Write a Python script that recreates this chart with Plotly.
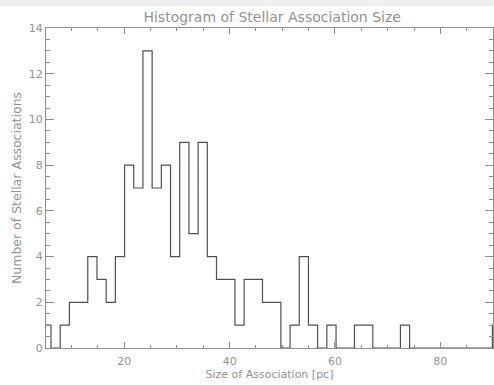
import plotly.graph_objects as go

# Histogram of stellar association sizes
bin_start = 4.33   # pc, left edge of first bin
bin_width = 1.746  # pc
counts = [1, 0, 1, 2, 2, 4, 3, 2, 4, 8,
          7, 13, 7, 8, 4, 9, 5, 9, 4, 3,
          3, 1, 3, 3, 2, 2, 0, 1, 4, 1,
          0, 1, 0, 0, 1, 1, 0, 0, 0, 1,
          0, 0, 0, 0, 0, 0, 0, 0, 0, 1]

x_range = [5.13, 90.0]
y_range = [0, 14]
x_ticks = [20, 40, 60, 80]
y_ticks = [0, 2, 4, 6, 8, 10, 12, 14]

title = "Histogram of Stellar Association Size"
x_title = "Size of Association [pc]"
y_title = "Number of Stellar Associations"

edges = [bin_start + bin_width * i for i in range(len(counts) + 1)]
step_y = counts + [counts[-1]]

axis_col = "#8f8f8f"
text_col = "#939393"
font_family = "DejaVu Sans"

fig = go.Figure()
fig.add_trace(go.Scatter(
    x=edges, y=step_y, mode="lines", line_shape="hv",
    line=dict(color="#505050", width=1.2), showlegend=False,
))

common = dict(
    showgrid=False, zeroline=False, showline=True, linecolor=axis_col,
    linewidth=1, mirror="ticks", ticks="inside", tickcolor=axis_col,
    tickfont=dict(family=font_family, size=11, color=text_col),
)

fig.update_xaxes(
    range=x_range, tickvals=x_ticks, ticklen=6, ticklabelstandoff=3,
    minor=dict(dtick=5, tick0=0, ticklen=3, ticks="inside", tickcolor=axis_col),
    title=dict(text=x_title, font=dict(family=font_family, size=11, color=text_col), standoff=0),
    **common,
)
fig.update_yaxes(
    range=y_range, tickvals=y_ticks, ticklen=8,
    minor=dict(dtick=0.5, tick0=0, ticklen=4, ticks="inside", tickcolor=axis_col),
    title=dict(text=y_title, font=dict(family=font_family, size=12.5, color=text_col), standoff=4),
    **common,
)

fig.update_layout(
    width=494, height=385,
    margin=dict(l=46, r=1, t=28, b=37, pad=0),
    paper_bgcolor="white", plot_bgcolor="white",
    title=dict(text=title, x=0.551, xref="container", xanchor="center",
               y=1 - 16.7 / 385, yref="container", yanchor="middle",
               font=dict(family=font_family, size=14, color=text_col)),
    shapes=[dict(type="rect", xref="paper", yref="paper",
                 x0=-0.2, x1=1.1, y0=1.069, y1=1.2,
                 fillcolor="#efefef", line=dict(width=0), layer="below")],
)

fig.write_html("out.html")
